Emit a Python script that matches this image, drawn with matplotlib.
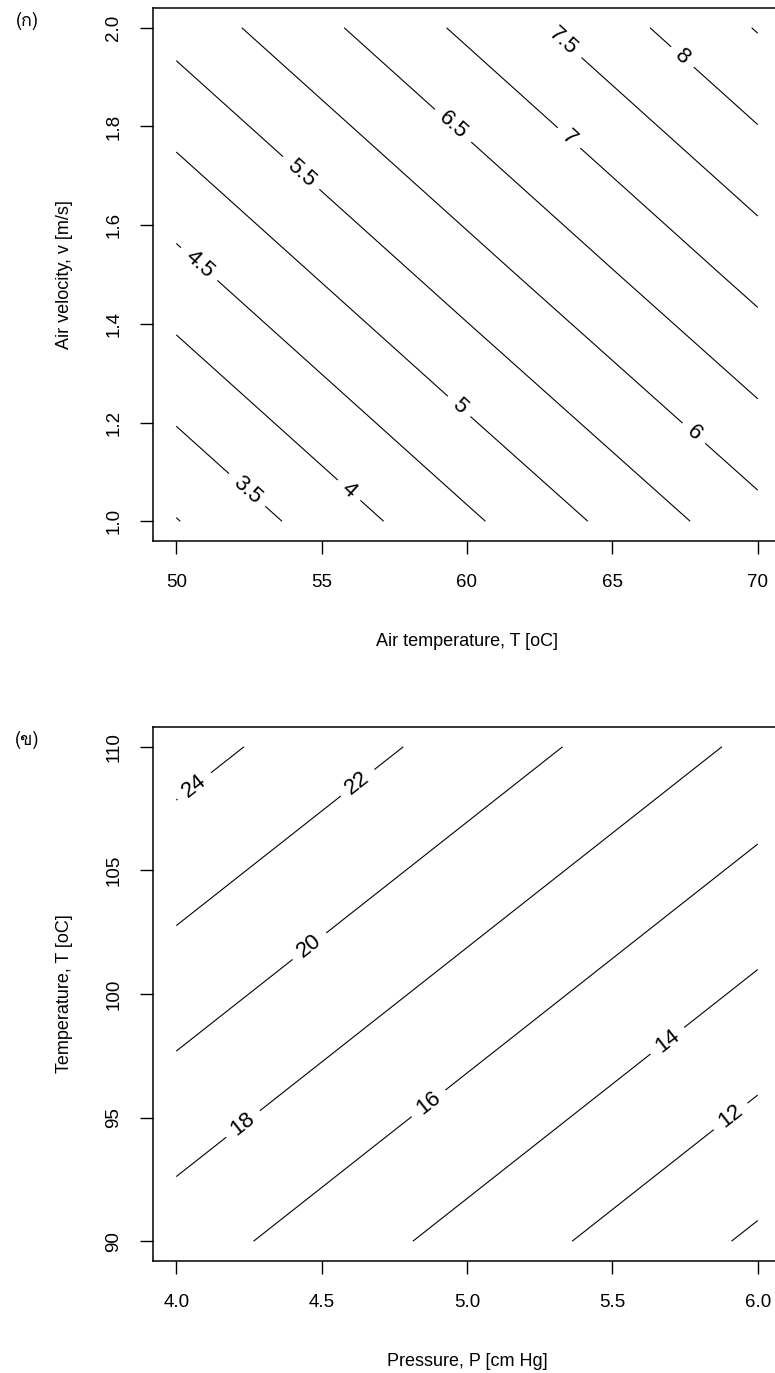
import numpy as np
import matplotlib
matplotlib.use("Agg")
import matplotlib.pyplot as plt
from matplotlib import font_manager as fm
from matplotlib.ft2font import FT2Font

# ---------------- data : panel (ก) ----------------
air_temperature = [50, 60, 70]          # T [oC]
air_velocity = [1.0, 1.5, 2.0]          # v [m/s]
response_a = [[2.98, 4.41, 5.83],       # rows: v = 1.0, 1.5, 2.0
              [4.33, 5.76, 7.18],
              [5.68, 7.10, 8.53]]
levels_a = [3.0, 3.5, 4.0, 4.5, 5.0, 5.5, 6.0, 6.5, 7.0, 7.5, 8.0, 8.5]
xticks_a = [50, 55, 60, 65, 70]
yticks_a = [1.0, 1.2, 1.4, 1.6, 1.8, 2.0]

# ---------------- data : panel (ข) ----------------
pressure = [4.0, 5.0, 6.0]              # P [cm Hg]
temperature = [90, 100, 110]            # T [oC]
response_b = [[16.97, 13.32, 9.67],     # rows: T = 90, 100, 110
              [20.91, 17.26, 13.61],
              [24.85, 21.20, 17.55]]
levels_b = [10, 12, 14, 16, 18, 20, 22, 24]
xticks_b = [4.0, 4.5, 5.0, 5.5, 6.0]
yticks_b = [90, 95, 100, 105, 110]

# label anchor points (layout)
label_pos_a = [(52.45, 1.064), (55.96, 1.064), (50.8, 1.522), (59.75, 1.234),
               (54.3, 1.706), (67.8, 1.178), (59.5, 1.80), (63.5, 1.776),
               (63.3, 1.972), (67.4, 1.94)]
label_pos_b = [(4.063, 108.4), (4.63, 108.45), (4.467, 101.8), (4.23, 94.74),
               (4.866, 95.6), (5.69, 98.1), (5.91, 95.0)]

# ---------------- fonts ----------------
plt.rcParams['font.family'] = ['Liberation Sans', 'DejaVu Sans']
thai_font = None
for f in fm.fontManager.ttflist:
    try:
        if 0x0E01 in FT2Font(f.fname).get_charmap():
            thai_font = f.name
            break
    except Exception:
        pass
thai_family = [thai_font, 'Liberation Sans'] if thai_font else ['Liberation Sans', 'DejaVu Sans']

W, H = 775, 1373
fig = plt.figure(figsize=(W / 100, H / 100), dpi=100)


def px_axes(left, top, right, bottom):
    return fig.add_axes([left / W, 1 - bottom / H, (right - left) / W, (bottom - top) / H])


def style(ax, xt, yt, xfmt, yfmt, xlim, ylim, xlabel, ylabel):
    ax.set_xlim(*xlim)
    ax.set_ylim(*ylim)
    ax.set_xticks(xt)
    ax.set_xticklabels([xfmt.format(v) for v in xt], fontsize=13.5)
    ax.set_yticks(yt)
    ax.set_yticklabels([yfmt.format(v) for v in yt], fontsize=13.5,
                       rotation=90, va='center')
    ax.tick_params(direction='out', length=9.5, width=1.0, color='black')
    ax.tick_params(axis='x', pad=14.5)
    ax.tick_params(axis='y', pad=12.5)
    for s in ax.spines.values():
        s.set_linewidth(1.1)
    ax.set_xlabel(xlabel, fontsize=13)
    ax.set_ylabel(ylabel, fontsize=13)
    ax.xaxis.set_label_coords(0.5, -0.172)
    ax.yaxis.set_label_coords(-0.128, 0.5)


fmt = lambda v: f"{v:g}"

# ---------------- panel (ก) ----------------
ax1 = px_axes(153, 8, 781, 541)
style(ax1, xticks_a, yticks_a, "{:g}", "{:.1f}", (49.2, 70.8), (0.96, 2.04),
      "Air temperature, T [oC]", "Air velocity, v [m/s]")
cs1 = ax1.contour(air_temperature, air_velocity, np.array(response_a),
                  levels=levels_a, colors='black', linewidths=0.8)
ax1.clabel(cs1, manual=label_pos_a, inline=True,
           inline_spacing=9, fmt=fmt, fontsize=16, colors='black')

# ---------------- panel (ข) ----------------
ax2 = px_axes(153, 727, 781, 1261)
style(ax2, xticks_b, yticks_b, "{:.1f}", "{:g}", (3.92, 6.08), (89.2, 110.8),
      "Pressure, P [cm Hg]", "Temperature, T [oC]")
cs2 = ax2.contour(pressure, temperature, np.array(response_b),
                  levels=levels_b, colors='black', linewidths=0.8)
ax2.clabel(cs2, manual=label_pos_b, inline=True,
           inline_spacing=9, fmt=fmt, fontsize=16, colors='black')

fig.text(27 / W, 1 - 21 / H, "(ก)", family=thai_family, fontsize=13,
         ha='center', va='center')
fig.text(27 / W, 1 - 740 / H, "(ข)", family=thai_family, fontsize=13,
         ha='center', va='center')

fig.savefig("out.png", dpi=100)
